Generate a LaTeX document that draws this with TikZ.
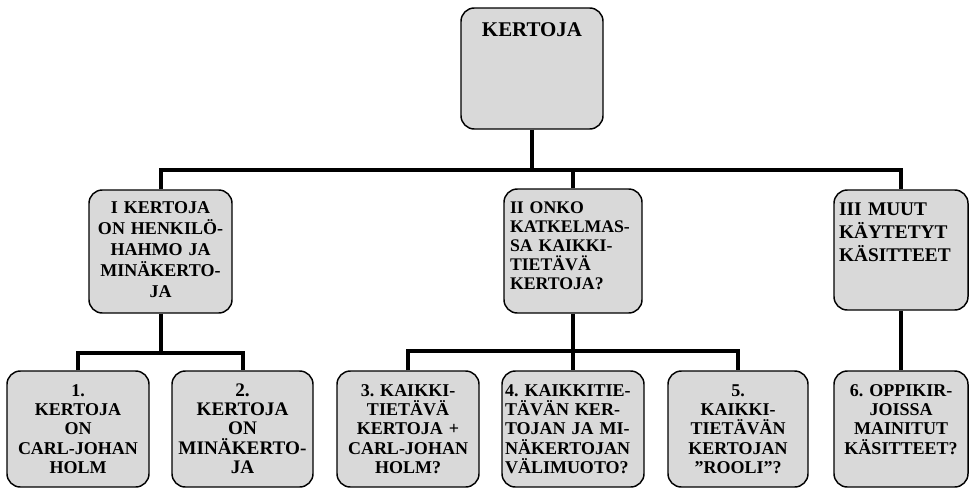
\documentclass[tikz,border=0pt]{standalone}
\usepackage{fontspec}
\setmainfont{Liberation Serif}
\frenchspacing
\usetikzlibrary{positioning,calc}
\definecolor{ink}    {HTML}{000000}
\definecolor{boxgray}{HTML}{D9D9D9}
\tikzset{
  % --- nodes
  kbox/.style  = {rounded corners=10pt, draw=ink, fill=boxgray, line width=1.1pt,
                  inner xsep=1.5pt, inner ysep=0pt, align=center,
                  font=\fontsize{13.5}{14.6}\selectfont\bfseries},
  lbox/.style  = {kbox, align=left},
  top/.style   = {kbox, text width=103.5pt, text height=21pt, text depth=69.75pt,
                  font=\fontsize{15.7}{17}\selectfont\bfseries},
  mid/.style   = {text height=17.25pt, text depth=75pt},
  low/.style   = {text height=18.75pt, text depth=68.25pt},
  % --- edges
  conn/.style  = {draw=ink, line width=3pt},
}

\begin{document}
\begin{tikzpicture}[x=0.75pt,y=-0.75pt]
  \useasboundingbox (0,0) rectangle (969,489);

  \node[top] (kertoja) at (532,68.5) {KERTOJA};

  \node[kbox,mid,text width=104.25pt,font=\fontsize{13.5}{15.75}\selectfont\bfseries]
    (henkilo) at (160.5,251.5) {I KERTOJA\\ON HENKILÖ-\\HAHMO JA\\MINÄKERTO-\\JA};
  \node[lbox,mid,inner xsep=4.5pt,text width=94.5pt,text height=18pt,
        font=\fontsize{13.3}{14.4}\selectfont\bfseries]
    (kaikki) at (573,251) {II ONKO\\KATKELMAS-\\SA KAIKKI-\\TIETÄVÄ\\KERTOJA?};
  \node[lbox,inner xsep=3.75pt,text width=93pt,text height=18.75pt,text depth=71.25pt,
        font=\fontsize{14.5}{17.6}\selectfont\bfseries]
    (muut) at (901,250) {III MUUT\\KÄYTETYT\\KÄSITTEET};

  \node[kbox,low,text width=103.5pt] (carl) at (78,429)
    {1.\\KERTOJA\\ON\\CARL-JOHAN\\HOLM};
  \node[kbox,low,text width=102.75pt,font=\fontsize{14.4}{14.6}\selectfont\bfseries]
    (mina) at (242.5,429) {2.\\KERTOJA\\ON\\MINÄKERTO-\\JA};
  \node[kbox,low,text width=103.5pt] (plus) at (408,429)
    {3. KAIKKI-\\TIETÄVÄ\\KERTOJA +\\CARL-JOHAN\\HOLM?};
  \node[lbox,low,inner xsep=2.25pt,text width=102pt] (valimuoto) at (573,429)
    {4. KAIKKITIE-\\TÄVÄN KER-\\TOJAN JA MI-\\NÄKERTOJAN\\VÄLIMUOTO?};
  \node[kbox,low,text width=102pt] (rooli) at (738,429)
    {5.\\KAIKKI-\\TIETÄVÄN\\KERTOJAN\\”ROOLI”?};
  \node[kbox,low,text width=97.5pt] (oppikirja) at (901,429)
    {6. OPPIKIR-\\JOISSA\\MAINITUT\\KÄSITTEET?};

  % bars
  \coordinate (bartop) at (0,170);
  \coordinate (barleft) at (0,353);
  \coordinate (barmid) at (0,351);

  \draw[conn] (kertoja.south) -- (kertoja.south |- bartop);
  \draw[conn] (henkilo.north) |- (muut.north |- bartop) -- (muut.north);
  \draw[conn] (kaikki.north) -- (kaikki.north |- bartop);

  \draw[conn] (henkilo.south) -- (henkilo.south |- barleft);
  \draw[conn] (carl.north) |- (mina.north |- barleft) -- (mina.north);

  \draw[conn] (kaikki.south) -- (valimuoto.north);
  \draw[conn] (plus.north) |- (rooli.north |- barmid) -- (rooli.north);

  \draw[conn] (muut.south) -- (oppikirja.north);
\end{tikzpicture}
\end{document}
